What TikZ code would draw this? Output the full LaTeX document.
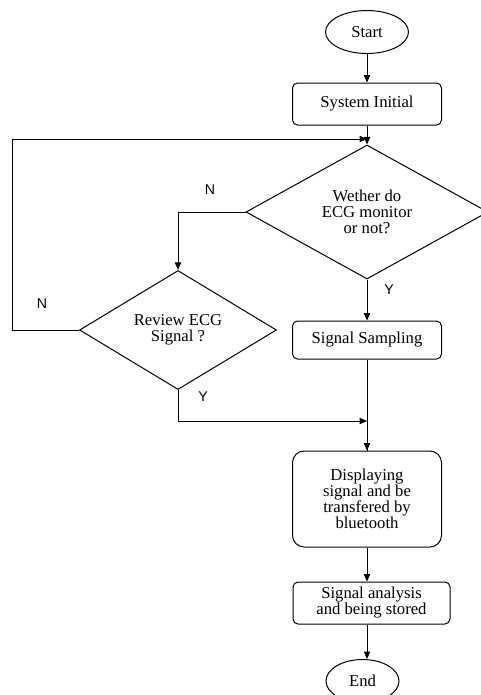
\documentclass[tikz,border=0pt]{standalone}
\usepackage{fontspec}
\setmainfont{Liberation Serif}
\newfontfamily\labelfont{Liberation Sans}
\usetikzlibrary{arrows.meta,shapes.geometric,positioning}

\begin{document}
\begin{tikzpicture}[
  x=0.6pt, y=-0.6pt,
  line width=0.6pt,
  terminal/.style={ellipse, draw, inner sep=0pt, minimum width=49.8pt, minimum height=25.8pt, font=\fontsize{10}{9.6}\selectfont},
  box/.style={rectangle, draw, rounded corners=3pt, inner sep=0pt, minimum width=89.4pt, align=center, font=\fontsize{10}{9.6}\selectfont},
  decision/.style={diamond, draw, inner sep=0pt, align=center, font=\fontsize{10}{9.6}\selectfont},
  arrow/.style={-{Triangle[length=4.5pt, width=3.8pt]}},
  yn/.style={font=\labelfont\fontsize{8.5}{9}\selectfont, inner sep=0pt}
]
\useasboundingbox (0,0) rectangle (480,695);

%% Main column
\node[terminal] (start) at (367,32) {Start};
\node[box, minimum height=25.2pt] (init) at (367,104) {System Initial};
\node[decision, minimum width=145.2pt, minimum height=61.8pt] (check) at (367,212) {Wether do\\ECG monitor\\or not?};
\node[box, minimum height=22.8pt] (sample) at (367,340) {Signal Sampling};
\node[box, rounded corners=7pt, minimum height=57.6pt] (display) at (367,499) {Displaying\\signal and be\\transfered by\\bluetooth};
\node[box, minimum width=94.2pt, minimum height=25.2pt] (analyse) at (371.5,603) {Signal analysis\\and being stored};
\node[terminal, minimum width=43.8pt] (finish) at (362.5,681) {End};

%% Side branch
\node[decision, minimum width=118.2pt, minimum height=60pt] (review) at (178,330) {Review ECG\\Signal ?};

%% Helper points
\coordinate (loopL) at (12,139);
\coordinate (join1) at (367,139);
\coordinate (join2) at (367,421);

%% Arrows main column
\draw[arrow] (start) -- (init);
\draw[arrow] (init) -- (check);
\draw[arrow] (check) -- (sample);
\draw (sample) -- (display);
\draw[arrow] (join2) -- (display);
\draw[arrow] (display) -- (analyse.north -| display.south);
\draw[arrow] (analyse.south -| display.south) -- (finish.north -| display.south);

%% Arrows side branch
\draw[arrow] (check.west) -| (review.north);
\draw[arrow] (review.west) -| (loopL) -- (join1);
\draw[arrow] (review.south) |- (join2);

%% Labels
\node[yn] (nCheck) at (210,190) {N};
\node[yn] (yCheck) at (389,290) {Y};
\node[yn] (nReview) at (42,304) {N};
\node[yn] (yReview) at (203,397) {Y};
\end{tikzpicture}
\end{document}
